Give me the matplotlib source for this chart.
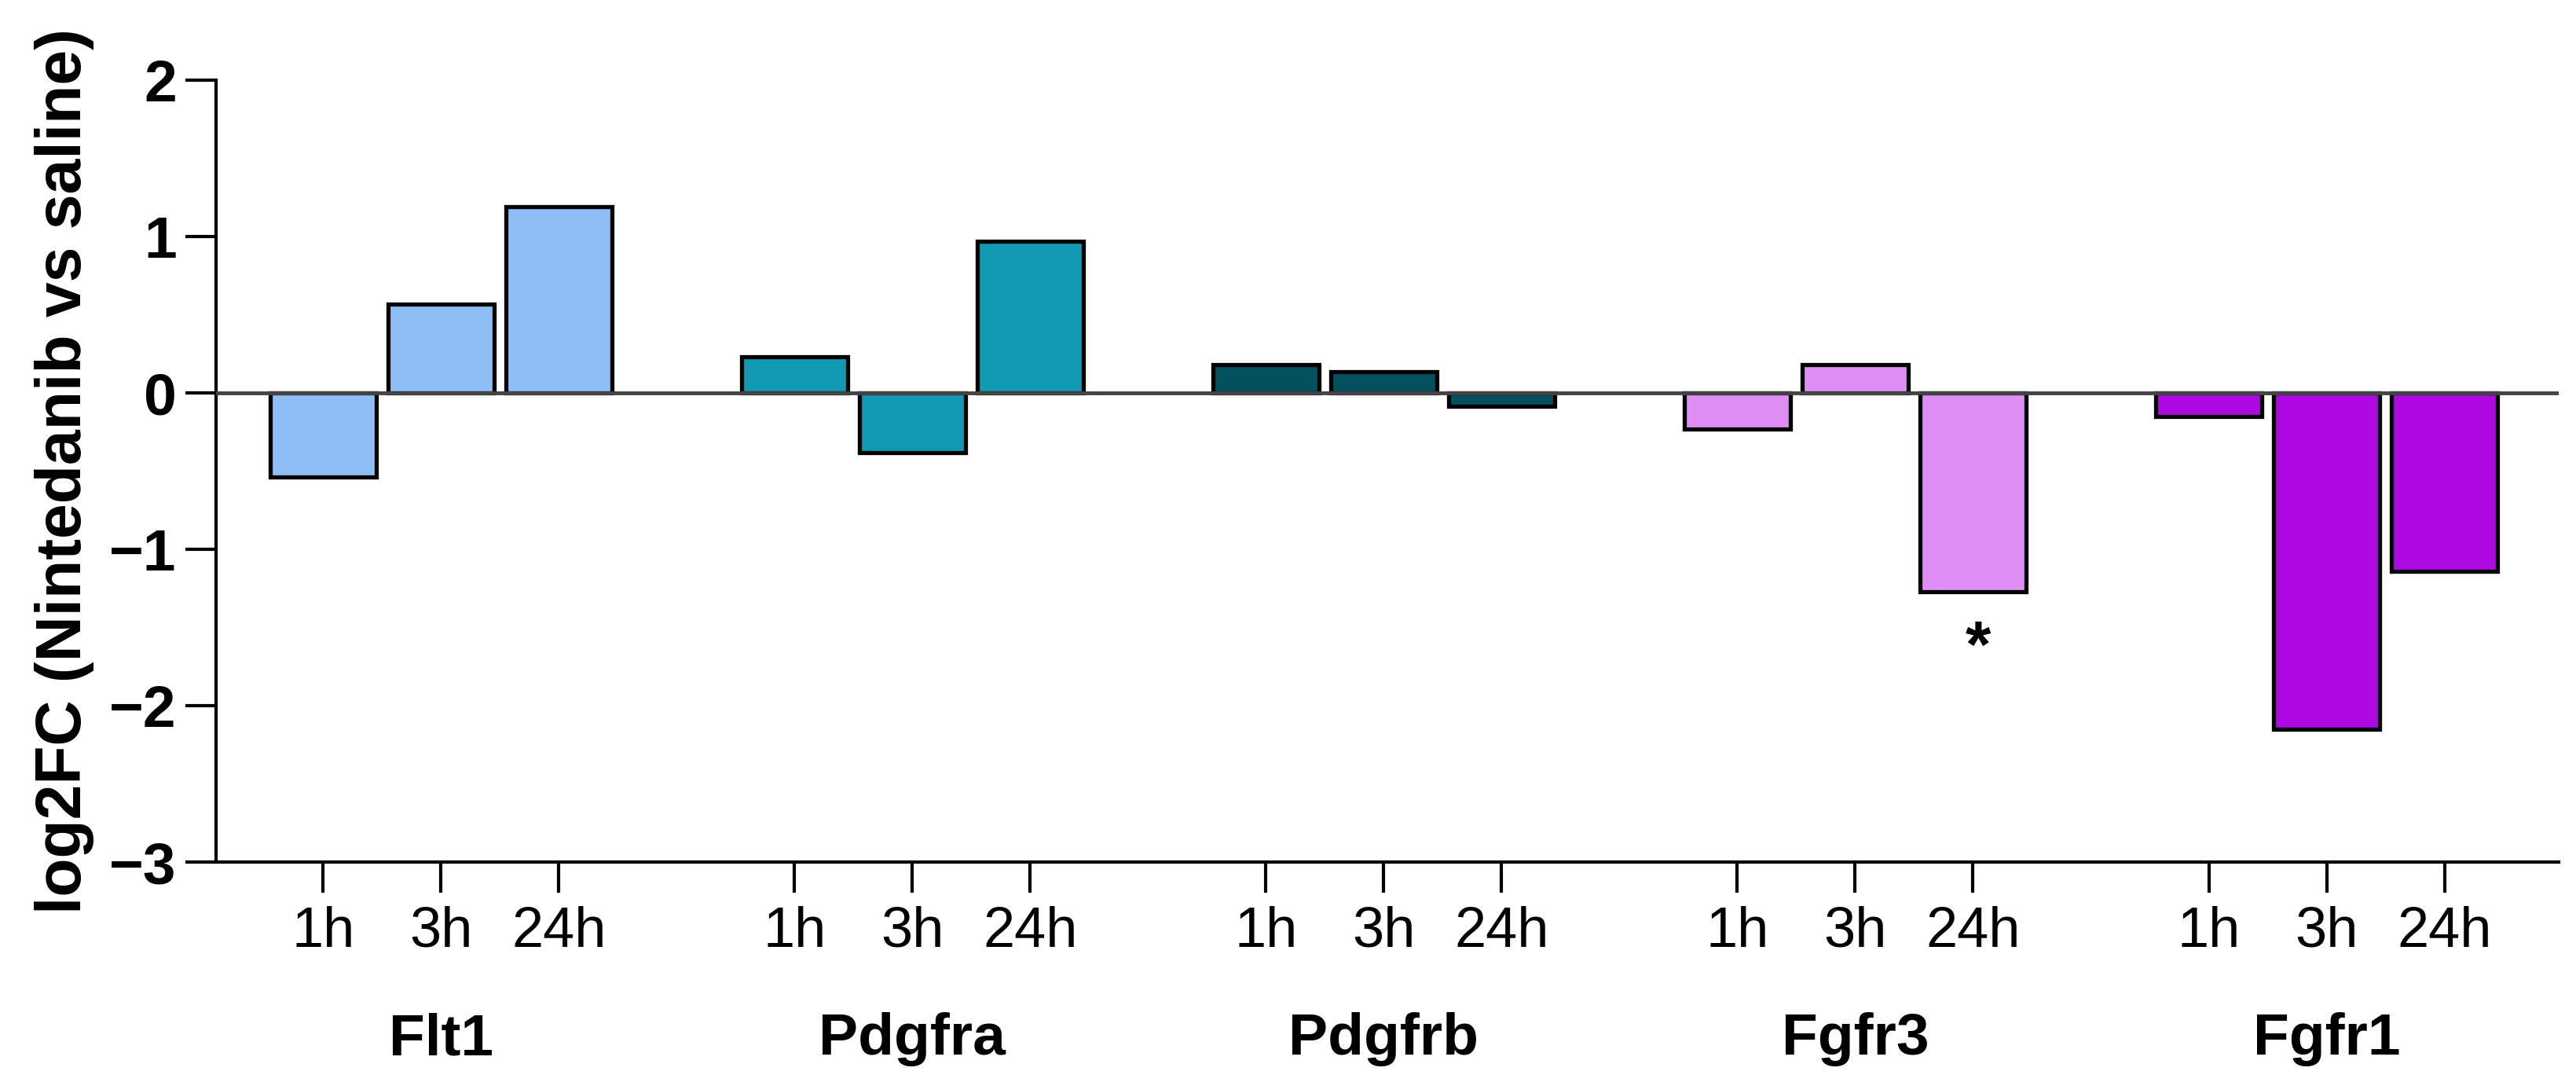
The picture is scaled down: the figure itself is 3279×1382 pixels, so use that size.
import matplotlib
matplotlib.use("Agg")
import matplotlib.pyplot as plt
from matplotlib.transforms import blended_transform_factory

plt.rcParams['font.family'] = ['Liberation Sans', 'DejaVu Sans']

genes = ["Flt1", "Pdgfra", "Pdgfrb", "Fgfr3", "Fgfr1"]
timepoints = ["1h", "3h", "24h"]
flt1 = [-0.54, 0.57, 1.19]
pdgfra = [0.23, -0.38, 0.97]
pdgfrb = [0.18, 0.135, -0.085]
fgfr3 = [-0.23, 0.18, -1.27]
fgfr1 = [-0.15, -2.15, -1.14]
values = [flt1, pdgfra, pdgfrb, fgfr3, fgfr1]
colors = ["#8FBEF7", "#1199B4", "#03505F", "#DE8EF5", "#AD0AE3"]
yticks = [-3, -2, -1, 0, 1, 2]
# significance marks: (gene index, timepoint index, y position, text)
sig_marks = [(3, 2, -1.64, "*")]

fig = plt.figure(figsize=(32.8, 13.82), dpi=100)
ax = fig.add_axes([0.0838, 0.2062, 0.9092, 0.7200])

group_step = 4
xpos_all, xlab_all = [], []
for gi, (g, vals, c) in enumerate(zip(genes, values, colors)):
    xs = [gi * group_step + j for j in range(len(timepoints))]
    ax.bar(xs, vals, width=0.9, color=c, edgecolor="black", linewidth=3.8, zorder=2)
    xpos_all += xs
    xlab_all += timepoints

ax.axhline(0, color="#444444", linewidth=3.5, zorder=3)

ax.set_xlim(-0.91, (len(genes) - 1) * group_step + 2 + 0.97)
ax.set_ylim(-3, 2)
ax.set_yticks(yticks)
ax.set_yticklabels([str(t).replace("-", "\u2212") for t in yticks], fontweight="bold")
ax.set_xticks(xpos_all)
ax.set_xticklabels(xlab_all)

for s in ["top", "right"]:
    ax.spines[s].set_visible(False)
for s in ["left", "bottom"]:
    ax.spines[s].set_linewidth(3)
ax.tick_params(axis="y", direction="out", length=28, width=3, labelsize=54, pad=8)
ax.tick_params(axis="x", direction="out", length=28, width=3, labelsize=52, pad=12)

ax.set_ylabel("log2FC (Nintedanib vs saline)", fontsize=58, fontweight="bold", labelpad=14)

trans = blended_transform_factory(ax.transData, fig.transFigure)
for gi, g in enumerate(genes):
    ax.text(gi * group_step + 1, 0.043, g, transform=trans, ha="center", va="center",
            fontsize=54, fontweight="bold")

for gi, ti, yv, txt in sig_marks:
    ax.text(gi * group_step + ti + 0.04, yv, txt, ha="center", va="center",
            fontsize=60, fontweight="bold")

fig.savefig("out.png", dpi=100, facecolor="white")
